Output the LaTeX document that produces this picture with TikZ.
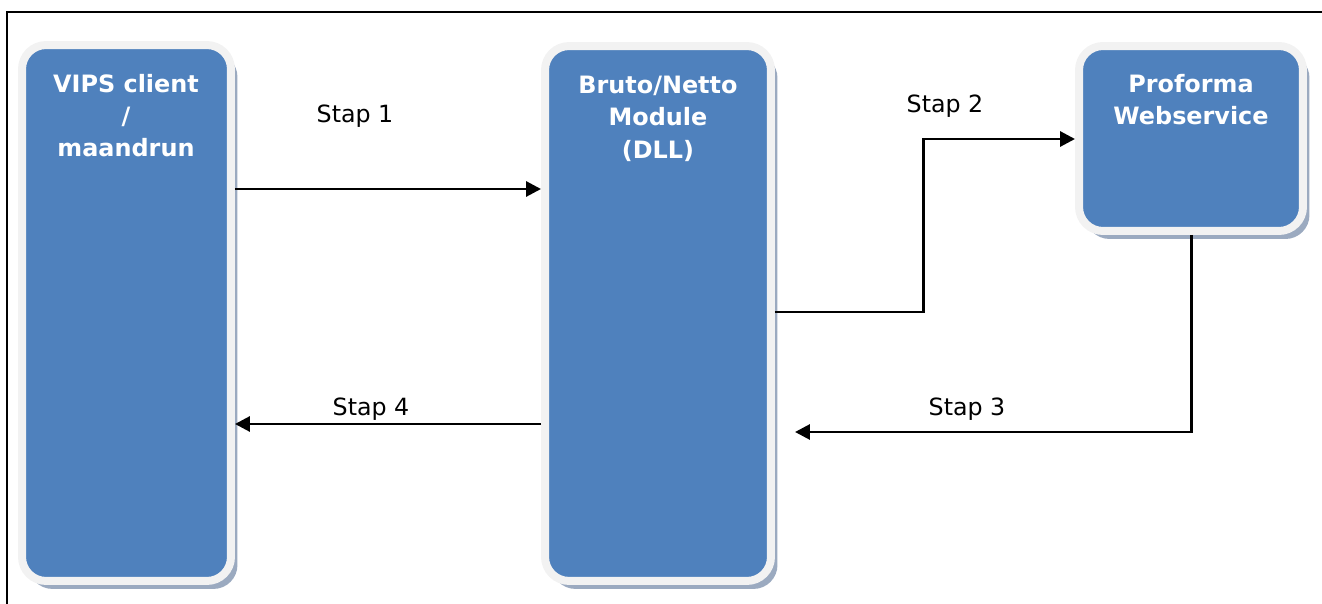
\documentclass[tikz,border=0pt]{standalone}
\usepackage{fontspec}
\setmainfont{DejaVu Sans}
\usetikzlibrary{arrows.meta,shadows}
\definecolor{boxblue}{HTML}{4F81BD}
\definecolor{boxrim}{HTML}{F2F2F2}
\definecolor{shadowblue}{HTML}{9BAAC0}
\begin{document}
\begin{tikzpicture}[x=0.02cm, y=-0.02cm,
    module/.style={rectangle, fill=boxblue, draw=boxrim, line width=0.16cm,
        rounded corners=0.48cm,
        drop shadow={shadow xshift=0.13cm, shadow yshift=-0.16cm, fill=shadowblue, opacity=1}},
    boxtext/.style={anchor=north, inner sep=0pt, align=center, text=white,
        font=\fontsize{13.6}{18.3}\selectfont\bfseries},
    steplabel/.style={inner sep=0pt, font=\fontsize{13.5}{16}\selectfont},
    flow/.style={line width=1.7pt, -{Triangle[length=8.5pt, width=8.5pt]}}]
    \useasboundingbox (0,0) rectangle (1322,604);
    % frame
    \draw[line width=1.1pt] (1330,12) -- (7,12) -- (7,610);
    % the three boxes
    \node[module, minimum width=4.18cm, minimum height=10.72cm] (vips) at (126.5,313) {};
    \node[module, minimum width=4.52cm, minimum height=10.7cm] (bruto) at (658,313.5) {};
    \node[module, minimum width=4.48cm, minimum height=3.7cm] (proforma) at (1191,138.5) {};
    \node[boxtext] (vipstext) at (126,74) {VIPS client\\/\\maandrun};
    \node[boxtext] (brutotext) at (658,76) {Bruto/Netto\\Module\\(DLL)};
    \node[boxtext] (proformatext) at (1191,74) {Proforma\\Webservice};
    % steps
    \draw[flow] (vips.east |- 0,189) -- (bruto.west |- 0,189);
    \draw[flow] (bruto.east |- 0,312) -- (923,312) |- (proforma.west |- 0,139);
    \coordinate (back) at (795,432);
    \draw[flow] (proforma.south) |- (back);
    \draw[flow] (bruto.west |- 0,424) -- (vips.east |- 0,424);
    \node[steplabel] (stap1) at (355,116) {Stap 1};
    \node[steplabel] (stap2) at (945,106) {Stap 2};
    \node[steplabel] (stap3) at (967,409) {Stap 3};
    \node[steplabel] (stap4) at (371,409) {Stap 4};
\end{tikzpicture}
\end{document}
